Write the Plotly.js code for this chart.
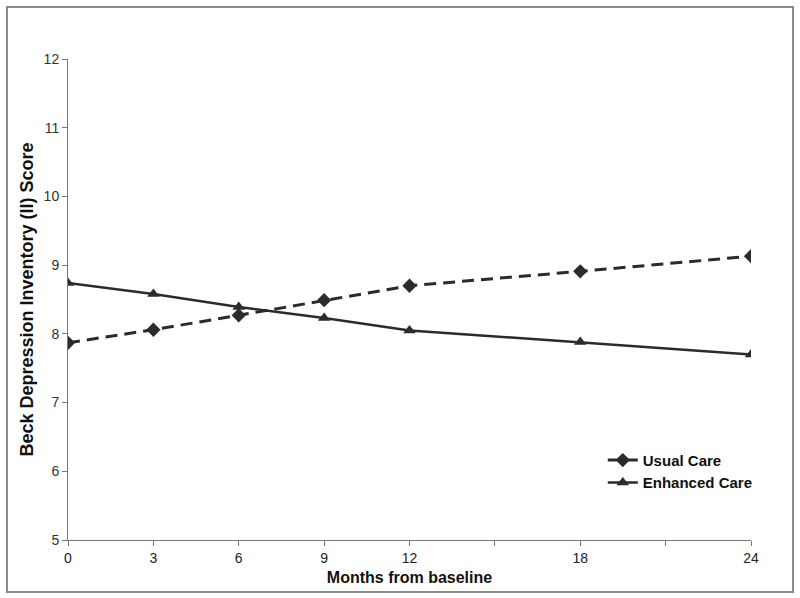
<!DOCTYPE html>
<html>
<head>
<meta charset="utf-8">
<script src="https://cdn.plot.ly/plotly-3.0.1.min.js"></script>
<style>
  body { margin: 0; background: #fff; }
  #chart { width: 800px; height: 598px; }
</style>
</head>
<body>
<div id="chart"></div>
<script>
// months from baseline
const months = [0, 3, 6, 9, 12, 18, 24];
const usualCare = [7.87, 8.06, 8.27, 8.49, 8.70, 8.91, 9.13];
const enhancedCare = [8.74, 8.58, 8.39, 8.23, 8.05, 7.88, 7.70];

const xTickVals = [0, 3, 6, 9, 12, 15, 18, 21, 24];
const xTickText = ['0', '3', '6', '9', '12', '', '18', '', '24'];
const yTickVals = [5, 6, 7, 8, 9, 10, 11, 12];

const ink = '#2b2b2b';

const usualTrace = {
  x: months,
  y: usualCare,
  type: 'scatter',
  mode: 'lines+markers',
  name: 'Usual Care',
  line: { color: ink, width: 3, dash: '12px,7px' },
  marker: { symbol: 'diamond', size: 11, color: ink }
};

const enhancedTrace = {
  x: months,
  y: enhancedCare,
  type: 'scatter',
  mode: 'lines+markers',
  name: 'Enhanced Care',
  line: { color: ink, width: 2.5 },
  marker: { symbol: 'triangle-up', size: 11, color: ink }
};

const layout = {
  width: 800,
  height: 598,
  margin: { l: 68, r: 49, t: 59, b: 58 },
  paper_bgcolor: '#fff',
  plot_bgcolor: '#fff',
  font: { family: 'Liberation Sans, Arial, sans-serif', size: 14, color: '#222' },
  showlegend: true,
  legend: {
    x: 0.783, y: 0.2, xanchor: 'left', yanchor: 'top',
    bgcolor: 'rgba(0,0,0,0)',
    font: { size: 15, color: '#111', weight: 'bold' }
  },
  xaxis: {
    range: [0, 24],
    tickvals: xTickVals,
    ticktext: xTickText,
    ticks: 'outside',
    ticklen: 5,
    tickcolor: '#777',
    showline: true,
    linecolor: '#777',
    linewidth: 1,
    showgrid: false,
    zeroline: false,
    tickfont: { size: 14, color: '#222' },
    title: { text: 'Months from baseline', font: { size: 16, color: '#111', weight: 'bold' }, standoff: 7 }
  },
  yaxis: {
    range: [5, 12],
    tickvals: yTickVals,
    ticks: 'outside',
    ticklen: 5,
    tickcolor: '#777',
    showline: true,
    linecolor: '#777',
    linewidth: 1,
    showgrid: false,
    zeroline: false,
    tickfont: { size: 14, color: '#333' },
    title: { text: 'Beck Depression Inventory (II) Score', font: { size: 18, color: '#111', weight: 'bold' }, standoff: 5 }
  },
  shapes: [{
    type: 'rect', xref: 'paper', yref: 'paper',
    x0: -0.0893, x1: 1.0615, y0: -0.108, y1: 1.108,
    line: { color: '#8c8c8c', width: 2 }
  }]
};

Plotly.newPlot('chart', [usualTrace, enhancedTrace], layout, { displayModeBar: false });
</script>
</body>
</html>
